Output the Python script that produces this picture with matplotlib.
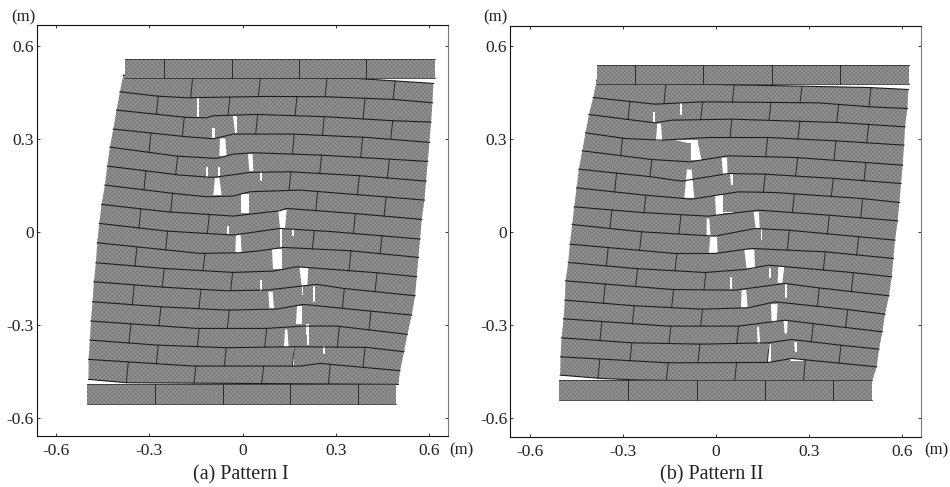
# -*- coding: utf-8 -*-
import matplotlib
matplotlib.use('Agg')
import matplotlib.pyplot as plt
import numpy as np

plt.rcParams['font.family'] = ['Liberation Serif', 'DejaVu Serif']
plt.rcParams['hatch.linewidth'] = 0.3

# wall outlines, in scan units; calibrated to metres
# with the tick marks of each panel (see CALIB)
ticks = [-0.6, -0.3, 0, 0.3, 0.6]
tick_labels = ['-0.6', '-0.3', '0', '0.3', '0.6']
captions = ['(a) Pattern I', '(b) Pattern II']

# x0, x scale, y0, y scale
CALIB = {'a': (728, 933, 695, 930), 'b': (723.5, 931, 695, 930)}

beds_a = [
    [(370, 225), (430, 232), (580, 233), (1070, 235), (1300, 250)],
    [(360, 275), (470, 288), (560, 293), (800, 289), (980, 290), (1180, 298), (1297, 308)],
    [(350, 330), (560, 352), (620, 353), (640, 347), (770, 343), (980, 350), (1180, 362), (1293, 366)],
    [(340, 387), (560, 410), (640, 416), (700, 402), (880, 402), (1100, 412), (1288, 427)],
    [(330, 441), (530, 468), (650, 475), (700, 462), (760, 458), (960, 465), (1283, 484)],
    [(322, 498), (540, 525), (640, 532), (750, 517), (870, 515), (1080, 527), (1278, 543)],
    [(315, 555), (520, 580), (620, 590), (700, 588), (750, 575), (900, 570), (1150, 590), (1273, 600)],
    [(305, 613), (500, 635), (700, 648), (840, 632), (860, 625), (1060, 640), (1265, 658)],
    [(298, 670), (500, 693), (700, 705), (840, 685), (1000, 695), (1260, 717)],
    [(292, 728), (600, 760), (720, 758), (780, 752), (850, 742), (1050, 752), (1255, 772)],
    [(288, 788), (490, 805), (700, 817), (820, 813), (890, 800), (1130, 818), (1250, 830)],
    [(282, 845), (500, 862), (680, 872), (800, 870), (950, 853), (1030, 865), (1245, 887)],
    [(278, 905), (480, 920), (680, 930), (830, 927), (910, 913), (1110, 933), (1235, 945)],
    [(273, 963), (590, 985), (800, 985), (910, 978), (1010, 978), (1222, 1003)],
    [(270, 1020), (470, 1035), (680, 1043), (880, 1040), (1100, 1042), (1212, 1055)],
    [(266, 1078), (580, 1098), (900, 1098), (960, 1090), (1200, 1112)],
    [(266, 1138), (380, 1148), (1195, 1153)],
]
joints_a = [
    [575, 778, 978, 1182], [472, 687, 888, 1092], [550, 770, 970, 1175], [450, 880, 1085],
    [530, 962, 1165], [435, 870, 1075], [515, 950, 1155], [420, 625, 1063],
    [500, 940, 1143], [408, 612, 1050], [490, 695, 1128], [400, 600, 1030],
    [480, 685, 1110], [390, 595, 797, 1015], [472, 676, 880, 1092], [382, 585, 788, 988],
]
top_beam_a = [375, 1305, 176, 233]
top_joints_a = [493, 695, 897, 1098]
bottom_beam_a = [262, 1188, 1152, 1213]
bottom_joints_a = [465, 668, 870, 1073]
# top left, top right, bottom left, bottom right, top y, bottom y
gaps_a = [
    (590, 596, 590, 596, 295, 352), (700, 712, 706, 712, 348, 398), (636, 646, 636, 646, 385, 415),
    (660, 676, 658, 680, 415, 468), (744, 758, 748, 760, 462, 513), (617, 623, 617, 623, 502, 530),
    (654, 661, 654, 661, 502, 530), (645, 658, 640, 665, 533, 585), (779, 785, 779, 785, 517, 543),
    (722, 748, 722, 748, 582, 640), (835, 860, 840, 855, 630, 685), (841, 846, 840, 846, 685, 745),
    (682, 687, 682, 687, 678, 702), (877, 882, 877, 882, 686, 708), (708, 722, 706, 725, 705, 758),
    (815, 845, 818, 845, 748, 808), (898, 925, 905, 922, 802, 855), (781, 787, 781, 787, 840, 872),
    (905, 910, 905, 910, 855, 885), (940, 946, 940, 946, 857, 905), (805, 818, 808, 822, 875, 925),
    (890, 905, 888, 905, 918, 973), (917, 928, 917, 928, 973, 1005), (921, 927, 921, 927, 1005, 1035),
    (855, 862, 852, 866, 988, 1040), (968, 974, 968, 974, 1037, 1062), (878, 883, 878, 883, 1045, 1097),
]

beds_b = [
    [(365, 240), (480, 248), (1180, 262), (1300, 268)],
    [(355, 292), (540, 312), (680, 305), (1030, 308), (1185, 320), (1297, 325)],
    [(342, 343), (540, 368), (590, 360), (770, 357), (1090, 367), (1290, 380)],
    [(332, 398), (450, 415), (560, 420), (700, 412), (880, 412), (1100, 423), (1287, 435)],
    [(322, 452), (530, 478), (645, 485), (760, 467), (960, 472), (1283, 495)],
    [(312, 507), (530, 530), (620, 543), (760, 520), (870, 522), (1080, 535), (1278, 550)],
    [(305, 563), (510, 585), (650, 597), (790, 575), (900, 577), (1160, 595), (1273, 607)],
    [(298, 620), (500, 637), (700, 648), (850, 630), (1060, 645), (1268, 662)],
    [(292, 673), (500, 695), (720, 708), (840, 685), (940, 690), (1260, 720)],
    [(285, 732), (600, 760), (720, 760), (830, 745), (1050, 755), (1255, 775)],
    [(280, 787), (480, 805), (690, 817), (810, 808), (880, 795), (1130, 817), (1250, 830)],
    [(272, 842), (590, 868), (780, 870), (930, 850), (1030, 863), (1242, 887)],
    [(270, 900), (480, 917), (680, 927), (820, 923), (900, 905), (1115, 928), (1230, 942)],
    [(266, 956), (580, 978), (790, 978), (930, 960), (1010, 970), (1222, 995)],
    [(260, 1013), (470, 1028), (680, 1032), (880, 1028), (950, 1018), (1095, 1035), (1212, 1047)],
    [(257, 1070), (580, 1088), (880, 1087), (950, 1075), (1205, 1100)],
    [(256, 1125), (380, 1135), (500, 1140), (1190, 1148)],
]
joints_b = [
    [570, 775, 978, 1185], [462, 680, 885, 1088], [768, 972, 1178], [440, 875, 1080],
    [528, 965, 1170], [422, 868, 1072], [510, 955, 1160], [408, 615, 1060],
    [497, 940, 1148], [397, 603, 1048], [485, 690, 1132], [388, 593, 1030],
    [475, 680, 1115], [378, 585, 788, 1012], [468, 672, 880, 1095], [372, 577, 782, 988],
]
top_beam_b = [367, 1303, 193, 250]
top_joints_b = [480, 685, 890, 1095]
bottom_beam_b = [252, 1190, 1140, 1200]
bottom_joints_b = [460, 667, 870, 1075]
gaps_b = [
    (615, 620, 615, 620, 307, 345), (535, 541, 535, 541, 335, 367), (547, 558, 543, 562, 370, 422),
    (600, 668, 640, 668, 420, 428), (648, 668, 648, 680, 425, 480), (740, 756, 744, 758, 472, 522),
    (636, 650, 628, 658, 508, 593), (766, 774, 768, 774, 520, 555), (720, 745, 722, 745, 585, 645),
    (745, 775, 745, 775, 635, 640), (836, 852, 842, 854, 635, 684), (695, 703, 695, 707, 655, 708),
    (857, 862, 857, 862, 686, 720), (706, 726, 702, 728, 708, 758), (808, 838, 815, 840, 748, 805),
    (910, 928, 908, 922, 800, 848), (881, 888, 881, 888, 803, 835), (766, 772, 766, 772, 832, 868),
    (929, 937, 929, 937, 852, 895), (800, 814, 798, 818, 870, 922), (888, 908, 890, 905, 912, 966),
    (926, 938, 929, 936, 963, 1000), (846, 852, 848, 856, 980, 1030), (958, 966, 960, 966, 1025, 1055),
    (880, 887, 880, 887, 1032, 1087), (945, 985, 945, 985, 1077, 1083),
]

GREY = '#929292'
HATCH = '#6a6a6a'
RAKE = 3


def draw_beam(ax, beam, joints, mx, my):
    xl, xr, yt, yb = beam
    ax.fill(mx(np.array([xl, xr, xr, xl])), my(np.array([yt, yt, yb, yb])),
            facecolor=GREY, edgecolor=HATCH, hatch='xxxxxxxx', lw=0, zorder=6)
    ax.plot(mx(np.array([xl, xr])), my(np.array([yt, yt])), color='#333333', lw=0.6, zorder=7)
    ax.plot(mx(np.array([xl, xr])), my(np.array([yb, yb])), color='#333333', lw=0.6, zorder=7)
    for j in joints:
        ax.plot(mx(np.array([j, j])), my(np.array([yt, yb])), color='#2a2a2a', lw=0.7, zorder=7)


def draw_wall(ax, key, beds, joints, top_beam, top_joints, bottom_beam, bottom_joints, gaps):
    x0, xs, y0, ys = CALIB[key]
    mx = lambda v: (v - x0) / xs
    my = lambda v: (y0 - v) / ys

    beds = [np.array(b, dtype=float) for b in beds]
    for top, bot in zip(beds[:-1], beds[1:]):
        px = np.r_[top[:, 0], bot[::-1, 0]]
        py = np.r_[top[:, 1], bot[::-1, 1]]
        ax.fill(mx(px), my(py), facecolor=GREY, edgecolor=HATCH, hatch='xxxxxxxx', lw=0, zorder=2)

    for g in gaps:
        tl, tr, bl, br, yt, yb = g
        ax.fill(mx(np.array([tl, tr, br, bl])), my(np.array([yt, yt, yb, yb])),
                facecolor='white', edgecolor='none', zorder=3)

    for b in beds:
        ax.plot(mx(b[:, 0]), my(b[:, 1]), color='#1c1c1c', lw=0.8, zorder=5)

    for k, row in enumerate(joints):
        top, bot = beds[k], beds[k + 1]
        for j in row:
            yt = np.interp(j, top[:, 0], top[:, 1])
            yb = np.interp(j, bot[:, 0], bot[:, 1])
            ax.plot(mx(np.array([j + RAKE, j - RAKE])), my(np.array([yt, yb])),
                    color='#2a2a2a', lw=0.7, zorder=4)

    draw_beam(ax, top_beam, top_joints, mx, my)
    draw_beam(ax, bottom_beam, bottom_joints, mx, my)


W, H = 950, 487
fig = plt.figure(figsize=(W / 100, H / 100), dpi=100)


def add_axes(left, right, top, bottom):
    return fig.add_axes([left / W, 1 - bottom / H, (right - left) / W, (bottom - top) / H])


ax_a = add_axes(36.7, 448.3, 25, 435.7)
ax_b = add_axes(510, 921, 25.7, 436.7)

draw_wall(ax_a, 'a', beds_a, joints_a, top_beam_a, top_joints_a, bottom_beam_a, bottom_joints_a, gaps_a)
draw_wall(ax_b, 'b', beds_b, joints_b, top_beam_b, top_joints_b, bottom_beam_b, bottom_joints_b, gaps_b)

ax_a.set_xlim(-0.662, 0.661)
ax_a.set_ylim(-0.658, 0.667)
ax_b.set_xlim(-0.664, 0.660)
ax_b.set_ylim(-0.661, 0.665)

for ax in (ax_a, ax_b):
    ax.set_xticks(ticks)
    ax.set_yticks(ticks)
    ax.set_xticklabels(tick_labels)
    ax.set_yticklabels(tick_labels)
    ax.tick_params(direction='in', length=2.5, width=0.7, top=True, right=True,
                   labelsize=12.5, color='#333333', labelcolor='#222222')
    ax.tick_params(axis='x', pad=5)
    ax.tick_params(axis='y', pad=2)
    for name, spine in ax.spines.items():
        spine.set_linewidth(0.8)
        spine.set_color('#777777' if name == 'right' else '#111111')

fig.text(23 / W, 1 - 17 / H, '(m)', ha='center', va='center', fontsize=12, color='#222222')
fig.text(461 / W, 1 - 450 / H, '(m)', ha='center', va='center', fontsize=12, color='#222222')
fig.text(495 / W, 1 - 17 / H, '(m)', ha='center', va='center', fontsize=12, color='#222222')
fig.text(936 / W, 1 - 450 / H, '(m)', ha='center', va='center', fontsize=12, color='#222222')

fig.text(241 / W, 1 - 475 / H, captions[0], ha='center', va='center', fontsize=14.5, color='#222222')
fig.text(712 / W, 1 - 475 / H, captions[1], ha='center', va='center', fontsize=14.5, color='#222222')

fig.savefig('out.png', dpi=100)
